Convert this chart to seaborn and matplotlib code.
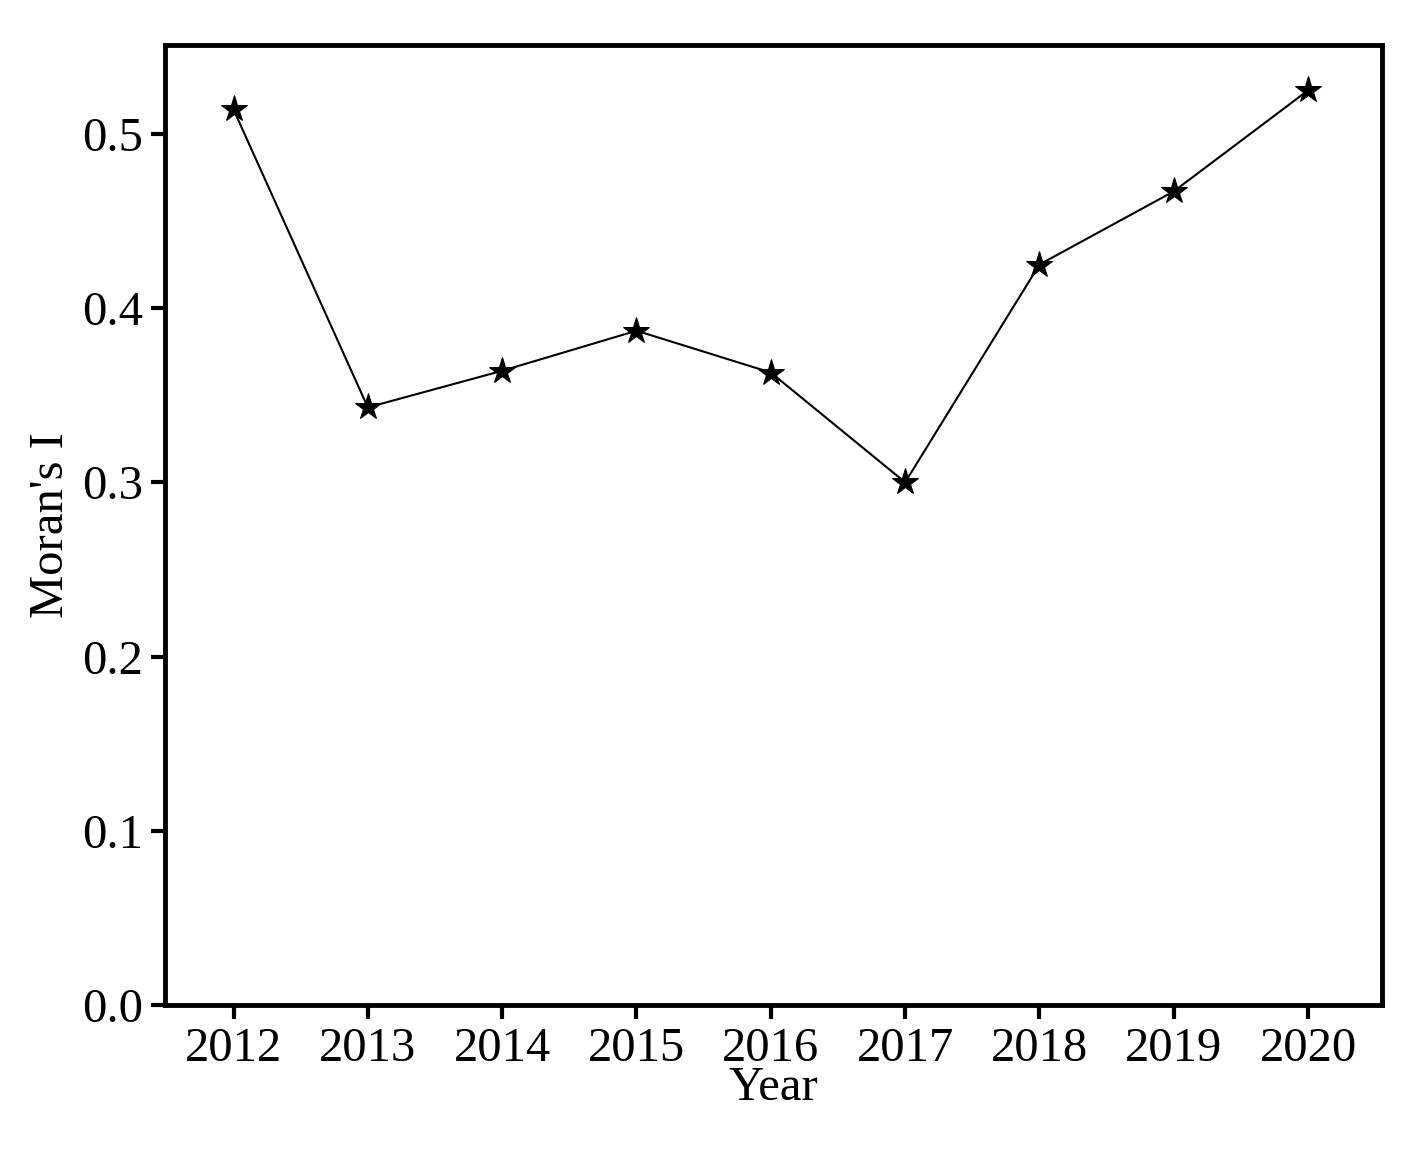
import matplotlib
matplotlib.use("Agg")
import matplotlib.pyplot as plt
import seaborn as sns
import pandas as pd

years = [2012, 2013, 2014, 2015, 2016, 2017, 2018, 2019, 2020]
morans_i = [0.514, 0.343, 0.364, 0.387, 0.363, 0.300, 0.425, 0.467, 0.525]

sns.set_style("ticks")
plt.rcParams['font.family'] = ['Liberation Serif', 'DejaVu Serif']
plt.rcParams['text.color'] = 'black'
plt.rcParams['axes.labelcolor'] = 'black'
plt.rcParams['xtick.color'] = 'black'
plt.rcParams['ytick.color'] = 'black'

df = pd.DataFrame({"Year": years, "Moran's I": morans_i})
fig = plt.figure(figsize=(14.03, 11.58), dpi=100)
ax = fig.add_axes([165/1403, 1-1005/1158, (1382-165)/1403, (1005-45)/1158])
sns.lineplot(data=df, x="Year", y="Moran's I", ax=ax, color="black", lw=1.5,
             marker="*", markersize=20, markerfacecolor="black", markeredgecolor="black")
ax.set_xlim(2011.49, 2020.55)
ax.set_ylim(0, 0.551)
ax.set_xticks(years)
ax.set_yticks([0.0, 0.1, 0.2, 0.3, 0.4, 0.5])
ax.set_yticklabels(["0.0", "0.1", "0.2", "0.3", "0.4", "0.5"])
ax.tick_params(labelsize=35, width=3, length=10, direction="out", color="black", pad=6)
for s in ax.spines.values():
    s.set_linewidth(3.5)
    s.set_color("black")
ax.set_xlabel("Year", fontsize=35, labelpad=-4)
ax.set_ylabel("Moran's I", fontsize=35, labelpad=6)
fig.savefig("out.png", dpi=100)
